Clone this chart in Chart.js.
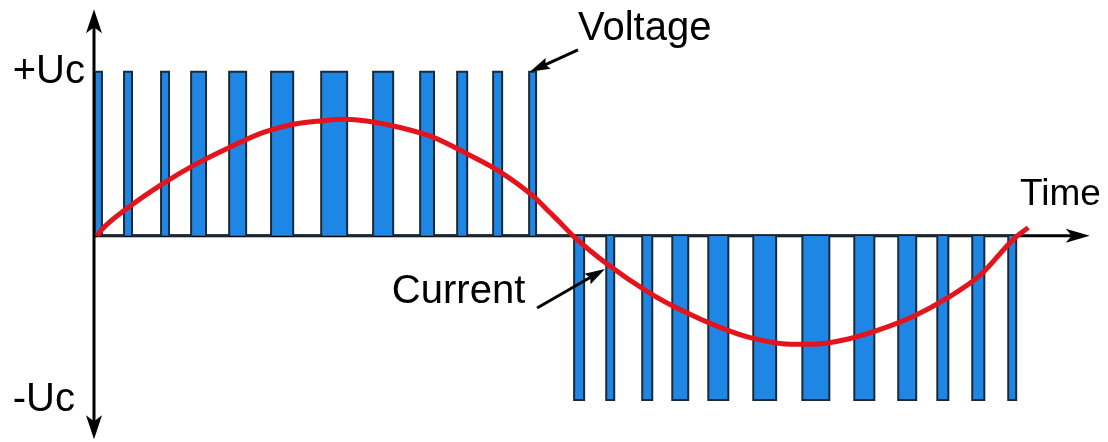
<!DOCTYPE html>
<html>
<head>
<meta charset="utf-8">
<script src="https://cdn.jsdelivr.net/npm/chart.js@4.4.1/dist/chart.umd.min.js"></script>
<style>
  html, body { margin: 0; padding: 0; background: #fff; }
</style>
</head>
<body>
<canvas id="pwm" width="1108" height="442"></canvas>
<script>
// time in electrical degrees, amplitude in units of Uc
const posPulseStart = [0, 11.3, 25.7, 37.4, 52.2, 68.5, 88.0, 108.2, 126.5, 140.9, 154.9, 168.9];
const posPulseEnd   = [2.7, 14.4, 28.8, 43.2, 58.8, 77.1, 98.1, 116.0, 131.9, 144.8, 158.4, 171.6];
const negPulseStart = [186.4, 198.9, 212.9, 224.6, 238.6, 256.1, 275.2, 295.4, 312.5, 327.7, 341.3, 355.3];
const negPulseEnd   = [190.3, 202.0, 216.8, 230.8, 246.4, 265.0, 285.7, 303.2, 319.5, 332.0, 346.0, 358.4];

const currentTime  = [0.8, 2.6, 13.6, 26.6, 39.6, 52.5, 65.5, 77.2, 87.6, 97.0, 105.7, 118.7, 131.7, 144.7, 157.6, 170.6, 177.1, 181.0, 186.0, 199.1, 216.0, 229.0, 241.9, 254.9, 270.5, 279.6, 292.6, 305.5, 318.5, 331.5, 344.4, 357.4, 363.1];
const currentValue = [0, 0.037, 0.18, 0.32, 0.44, 0.54, 0.63, 0.68, 0.70, 0.71, 0.70, 0.66, 0.60, 0.50, 0.39, 0.24, 0.14, 0.08, 0, -0.17, -0.35, -0.46, -0.55, -0.62, -0.66, -0.66, -0.63, -0.57, -0.49, -0.38, -0.24, -0.02, 0.05];

const levelLabels = ['+Uc', '-Uc'];
const levelValues = [1, -1];

function pulseTrain(starts, ends, level) {
  const pts = [];
  starts.forEach((s, i) => {
    pts.push({ x: s, y: 0 }, { x: s, y: level }, { x: ends[i], y: level }, { x: ends[i], y: 0 });
  });
  return pts;
}

const voltagePoints = pulseTrain(posPulseStart, posPulseEnd, 1)
  .concat(pulseTrain(negPulseStart, negPulseEnd, -1));

function arrowHead(ctx, x1, y1, x2, y2, len, half, notch) {
  const a = Math.atan2(y2 - y1, x2 - x1);
  const c = Math.cos(a), s = Math.sin(a);
  const bx = x2 - c * len, by = y2 - s * len;
  ctx.beginPath();
  ctx.moveTo(x2, y2);
  ctx.lineTo(bx - s * half, by + c * half);
  ctx.lineTo(x2 - c * (len - notch), y2 - s * (len - notch));
  ctx.lineTo(bx + s * half, by - c * half);
  ctx.closePath();
  ctx.fill();
}

const pwmDecor = {
  id: 'pwmDecor',
  beforeDatasetsDraw(chart) {
    const { ctx, scales: { x, y } } = chart;
    const x0 = x.getPixelForValue(0) - 1;
    const y0 = y.getPixelForValue(0);
    ctx.save();
    ctx.strokeStyle = '#000';
    ctx.fillStyle = '#000';
    ctx.lineWidth = 3;

    const top = y.getPixelForValue(1.38), bottom = y.getPixelForValue(-1.24);
    const right = x.getPixelForValue(387);
    ctx.beginPath();
    ctx.moveTo(x0, top + 10); ctx.lineTo(x0, bottom - 10);
    ctx.moveTo(x0, y0); ctx.lineTo(right - 10, y0);
    ctx.stroke();
    arrowHead(ctx, x0, top + 40, x0, top, 24, 8, 6);
    arrowHead(ctx, x0, bottom - 40, x0, bottom, 24, 8, 6);
    arrowHead(ctx, right - 40, y0, right, y0, 24, 7, 6);
    ctx.restore();
  },
  afterDatasetsDraw(chart) {
    const { ctx, scales: { x, y } } = chart;
    const px = (t) => x.getPixelForValue(t);
    const py = (v) => y.getPixelForValue(v);
    ctx.save();
    ctx.fillStyle = '#000';
    ctx.strokeStyle = '#000';
    ctx.font = '40px "Liberation Sans", Arial, sans-serif';
    ctx.textBaseline = 'middle';
    ctx.textAlign = 'left';
    levelLabels.forEach((txt, i) => {
      ctx.fillText(txt, px(-32), py(levelValues[i]));
    });

    ctx.textBaseline = 'alphabetic';
    ctx.fillText('Voltage', px(187.9), py(1.193));
    ctx.fillText('Current', px(115.5), py(-0.41));
    ctx.font = '37px "Liberation Sans", Arial, sans-serif';
    ctx.fillText('Time', px(359.9), py(0.188));

    ctx.lineWidth = 3;
    const arrows = [
      [187.9, 1.133, 169.2, 1.0],
      [172.0, -0.44, 198.4, -0.202]
    ];
    arrows.forEach(([t1, v1, t2, v2]) => {
      const x1 = px(t1), y1 = py(v1), x2 = px(t2), y2 = py(v2);
      ctx.beginPath();
      ctx.moveTo(x1, y1);
      ctx.lineTo(x2 + (x1 - x2) * 0.2, y2 + (y1 - y2) * 0.2);
      ctx.stroke();
      arrowHead(ctx, x1, y1, x2, y2, 20, 6, 3);
    });
    ctx.restore();
  }
};

new Chart(document.getElementById('pwm'), {
  type: 'line',
  data: {
    datasets: [
      {
        label: 'Current',
        data: currentTime.map((t, i) => ({ x: t, y: currentValue[i] })),
        borderColor: '#e3141c',
        borderWidth: 5,
        pointRadius: 0,
        fill: false,
        cubicInterpolationMode: 'monotone',
        order: 0
      },
      {
        label: 'Voltage',
        data: voltagePoints,
        borderColor: '#1c2a38',
        borderWidth: 2,
        backgroundColor: '#1e87e6',
        fill: 'origin',
        pointRadius: 0,
        tension: 0,
        order: 1
      }
    ]
  },
  options: {
    responsive: false,
    animation: false,
    devicePixelRatio: 1,
    layout: { padding: { left: 95, right: 8, top: 6, bottom: 1 } },
    plugins: { legend: { display: false }, tooltip: { enabled: false } },
    scales: {
      x: { type: 'linear', min: 0, max: 391, display: false },
      y: { min: -1.25, max: 1.4, display: false }
    }
  },
  plugins: [pwmDecor]
});
</script>
</body>
</html>
